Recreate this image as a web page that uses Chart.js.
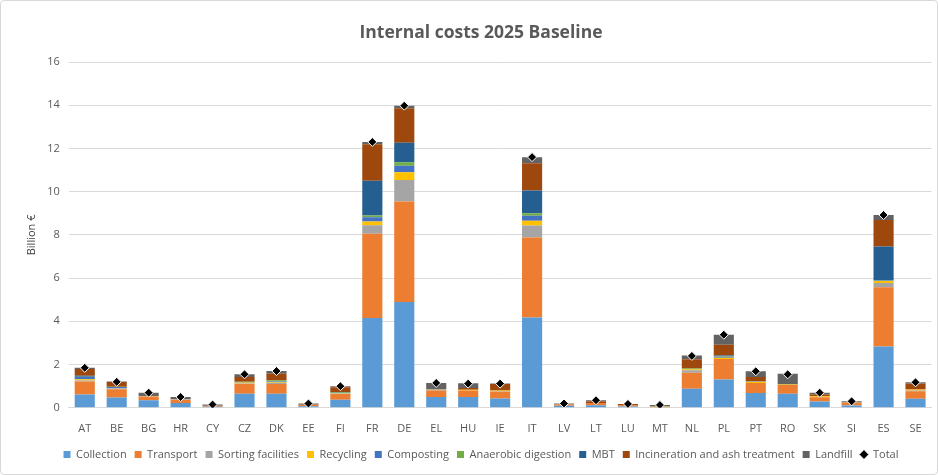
<!DOCTYPE html>
<html>
<head>
<meta charset="utf-8">
<script src="https://cdn.jsdelivr.net/npm/chart.js@4"></script>
<style>
  html, body { margin: 0; padding: 0; background: #fff; }
  .wrap { width: 936px; height: 473px; border: 1px solid #d9d9d9; border-radius: 4px; position: relative; }
</style>
</head>
<body>
<div class="wrap"><canvas id="myChart"></canvas></div>
<script>
const countries = ['AT','BE','BG','HR','CY','CZ','DK','EE','FI','FR','DE','EL','HU','IE','IT','LV','LT','LU','MT','NL','PL','PT','RO','SK','SI','ES','SE'];

const collection  = [0.62,0.48,0.35,0.22,0.05,0.65,0.65,0.07,0.37,4.15,4.90,0.50,0.50,0.43,4.18,0.10,0.12,0.06,0.03,0.88,1.31,0.69,0.65,0.29,0.11,2.84,0.42];
const transport   = [0.60,0.38,0.17,0.15,0.04,0.45,0.45,0.07,0.27,3.90,4.64,0.30,0.30,0.31,3.70,0.06,0.10,0.05,0.02,0.74,0.95,0.46,0.40,0.20,0.12,2.74,0.35];
const sorting     = [0.04,0.03,0.02,0.02,0.00,0.03,0.06,0.00,0.02,0.40,1.00,0.03,0.00,0.03,0.55,0.00,0.00,0.00,0.00,0.12,0.00,0.00,0.00,0.00,0.00,0.19,0.03];
const recycling   = [0.06,0.02,0.01,0.01,0.00,0.04,0.03,0.00,0.02,0.17,0.36,0.02,0.04,0.03,0.23,0.00,0.00,0.00,0.00,0.04,0.06,0.06,0.03,0.05,0.02,0.10,0.05];
const composting  = [0.10,0.05,0.00,0.00,0.00,0.02,0.03,0.00,0.02,0.20,0.30,0.00,0.00,0.00,0.23,0.00,0.00,0.00,0.00,0.02,0.04,0.02,0.00,0.00,0.00,0.02,0.00];
const anaerobic   = [0.02,0.01,0.00,0.00,0.00,0.01,0.06,0.00,0.03,0.08,0.16,0.00,0.00,0.00,0.11,0.00,0.00,0.00,0.02,0.02,0.02,0.00,0.00,0.00,0.00,0.02,0.00];
const mbt         = [0.04,0.00,0.00,0.00,0.00,0.00,0.00,0.00,0.00,1.60,0.90,0.00,0.00,0.00,1.05,0.00,0.00,0.00,0.00,0.00,0.04,0.00,0.00,0.00,0.00,1.55,0.00];
const incineration= [0.32,0.22,0.00,0.00,0.00,0.22,0.30,0.00,0.22,1.70,1.60,0.00,0.08,0.30,1.26,0.00,0.08,0.07,0.00,0.43,0.50,0.19,0.00,0.08,0.00,1.23,0.27];
const landfill    = [0.05,0.03,0.15,0.10,0.06,0.13,0.12,0.06,0.05,0.10,0.12,0.30,0.22,0.02,0.28,0.04,0.05,0.00,0.06,0.17,0.46,0.27,0.49,0.08,0.05,0.23,0.06];
const total       = [1.85,1.20,0.70,0.50,0.15,1.55,1.70,0.20,1.00,12.30,13.98,1.15,1.12,1.12,11.60,0.20,0.35,0.18,0.13,2.40,3.38,1.69,1.55,0.70,0.30,8.92,1.18];

const yTicks = [0, 2, 4, 6, 8, 10, 12, 14, 16];

const barSeries = [
    ['Collection', collection, '#5B9BD5'],
    ['Transport', transport, '#ED7D31'],
    ['Sorting facilities', sorting, '#A5A5A5'],
    ['Recycling', recycling, '#FFC000'],
    ['Composting', composting, '#4472C4'],
    ['Anaerobic digestion', anaerobic, '#70AD47'],
    ['MBT', mbt, '#255E91'],
    ['Incineration and ash treatment', incineration, '#9E480E'],
    ['Landfill', landfill, '#636363']
];

const datasets = barSeries.map(s => ({
    type: 'bar',
    label: s[0],
    data: s[1],
    backgroundColor: s[2],
    borderWidth: 0,
    barPercentage: 0.63,
    categoryPercentage: 1.0,
    stack: 'costs',
    order: 2
}));

// 합계 마커는 막대 위에 그려지도록 order 1
datasets.push({
    type: 'line',
    label: 'Total',
    data: total,
    showLine: false,
    pointStyle: 'rectRot',
    pointRadius: 4.5,
    pointHoverRadius: 4.5,
    backgroundColor: '#000000',
    borderColor: '#ffffff',
    pointBorderWidth: 1,
    order: 1
});

const ctx = document.getElementById('myChart').getContext('2d');
const myChart = new Chart(ctx, {
    data: { labels: countries, datasets: datasets },
    options: {
        responsive: true,
        maintainAspectRatio: false,
        animation: false,
        layout: { padding: { left: 24, right: 0, top: 10, bottom: 4 } },
        scales: {
            x: {
                stacked: true,
                grid: { display: false },
                border: { color: '#d9d9d9' },
                ticks: { color: '#595959', padding: 6, font: { family: 'Open Sans', size: 11 } }
            },
            y: {
                stacked: true,
                min: 0,
                max: 16,
                afterBuildTicks: axis => { axis.ticks = yTicks.map(v => ({ value: v })); },
                grid: { color: '#d9d9d9', drawTicks: false },
                border: { display: false },
                ticks: { color: '#595959', padding: 9, font: { family: 'Open Sans', size: 11 } },
                title: {
                    display: true,
                    text: 'Billion €',
                    color: '#404040',
                    padding: 0,
                    font: { family: 'Open Sans', size: 11 }
                }
            }
        },
        plugins: {
            tooltip: { enabled: false },
            title: {
                display: true,
                text: 'Internal costs 2025 Baseline',
                color: '#595959',
                font: { family: 'Open Sans', size: 17.5, weight: 'bold' },
                padding: { top: 12, bottom: 18 }
            },
            legend: {
                position: 'bottom',
                labels: {
                    color: '#595959',
                    font: { family: 'Open Sans', size: 11 },
                    boxWidth: 7,
                    boxHeight: 7,
                    padding: 8,
                    usePointStyle: true,
                    sort: (a, b) => a.datasetIndex - b.datasetIndex,
                    generateLabels: chart => {
                        const items = Chart.defaults.plugins.legend.labels.generateLabels(chart);
                        items.forEach(it => {
                            const ds = chart.data.datasets[it.datasetIndex];
                            if (ds.type === 'line') {
                                it.pointStyle = 'rectRot';
                                it.fillStyle = '#000';
                                it.strokeStyle = '#fff';
                                it.lineWidth = 1;
                            } else {
                                it.pointStyle = 'rect';
                                it.lineWidth = 0;
                            }
                        });
                        return items;
                    }
                }
            }
        }
    }
});
</script>
</body>
</html>
